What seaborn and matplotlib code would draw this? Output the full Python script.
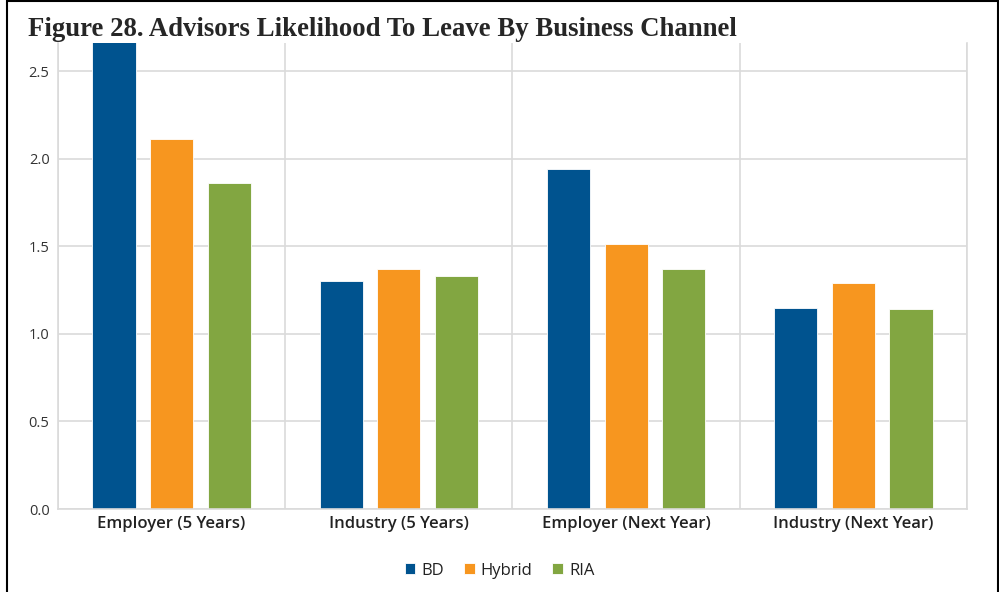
import pandas as pd
import numpy as np
import matplotlib
matplotlib.use("Agg")
import matplotlib.pyplot as plt
import seaborn as sns

# data
categories = ["Employer (5 Years)", "Industry (5 Years)", "Employer (Next Year)", "Industry (Next Year)"]
channels = ["BD", "Hybrid", "RIA"]
bd_vals = [2.70, 1.30, 1.94, 1.15]
hybrid_vals = [2.11, 1.37, 1.51, 1.29]
ria_vals = [1.86, 1.33, 1.37, 1.14]
y_ticks = [0.0, 0.5, 1.0, 1.5, 2.0, 2.5]

df = pd.DataFrame({
    "Category": categories * 3,
    "Channel": ["BD"] * 4 + ["Hybrid"] * 4 + ["RIA"] * 4,
    "Value": bd_vals + hybrid_vals + ria_vals,
})

colors = ["#00538F", "#F7961F", "#82A641"]
grid_col = "#DADADA"

sns.set_style("white")
plt.rcParams["font.family"] = ["Open Sans", "DejaVu Sans"]

fig = plt.figure(figsize=(9.99, 5.92), dpi=100)
ax = fig.add_axes([0.058, 0.1402, 0.910, 0.7872])

sns.barplot(data=df, x="Category", y="Value", hue="Channel", order=categories,
            hue_order=channels, palette=colors, width=0.76, gap=0.25,
            edgecolor="white", linewidth=0.6, saturation=1, ax=ax, legend=True)

ax.set_xlim(-0.5, 3.5)
ax.set_ylim(0, 2.66)
ax.set_yticks(y_ticks)
ax.set_yticklabels([f"{v:.1f}" for v in y_ticks], fontsize=10.5, color="#333333")
ax.tick_params(axis="y", length=0, pad=6)
ax.tick_params(axis="x", which="major", length=0, pad=5, labelsize=12, labelcolor="#222222")
for lab in ax.get_xticklabels():
    lab.set_fontweight("semibold")
ax.set_xticks([-0.5, 0.5, 1.5, 2.5, 3.5], minor=True)
ax.tick_params(axis="x", which="minor", length=19, width=1.2, color=grid_col, direction="out")
ax.set_xlabel("")
ax.set_ylabel("")

ax.grid(axis="y", color=grid_col, linewidth=1.2)
ax.grid(axis="x", which="minor", color=grid_col, linewidth=1.2)
ax.set_axisbelow(True)
for side in ["left", "right", "bottom"]:
    ax.spines[side].set_color(grid_col)
    ax.spines[side].set_linewidth(1.2)
ax.spines["top"].set_visible(False)

handles, labels = ax.get_legend_handles_labels()
ax.get_legend().remove()
leg = fig.legend(handles, labels, loc="center", bbox_to_anchor=(0.5, 0.036), ncol=3,
                 frameon=False, fontsize=12, handlelength=0.65, handleheight=0.65,
                 handletextpad=0.35, columnspacing=1.2)
for t in leg.get_texts():
    t.set_fontweight("medium")
    t.set_color("#222222")

fig.text(0.028, 0.939, "Figure 28. Advisors Likelihood To Leave By Business Channel",
         family="Liberation Serif", fontweight="bold", fontsize=19.3, va="baseline", ha="left")

# page border
fig.patches.append(plt.Rectangle((0.007, -0.01), 0.992, 1.008, transform=fig.transFigure,
                                 fill=False, edgecolor="black", linewidth=1.5))

fig.savefig("out.png", dpi=100)
